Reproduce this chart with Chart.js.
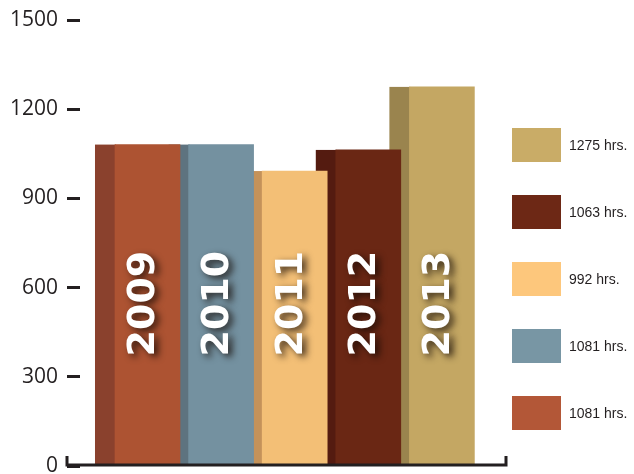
<!DOCTYPE html>
<html>
<head>
<meta charset="utf-8">
<script src="https://cdn.jsdelivr.net/npm/chart.js@4/dist/chart.umd.min.js"></script>
<style>
  html, body { margin: 0; padding: 0; background: #ffffff; }
  #wrap { width: 634px; height: 474px; position: relative; }
</style>
</head>
<body>
<div id="wrap"><canvas id="hoursChart"></canvas></div>
<script>
// Hours per year, one bar per year with a darker strip on its left side.

var years = ['2009', '2010', '2011', '2012', '2013'];
var hours = [1081, 1081, 992, 1063, 1275];
var legendText = ['1081 hrs.', '1081 hrs.', '992 hrs.', '1063 hrs.', '1275 hrs.'];
var yTicks = [0, 300, 600, 900, 1200, 1500];

var frontColors = ['#AD5332', '#7491A0', '#F3BF76', '#6A2714', '#C4A763'];
var sideColors = ['#8A412D', '#5E737F', '#C4925A', '#541B10', '#9A844E'];
var legendColors = ['#B35737', '#7896A4', '#FDC77C', '#6D2815', '#C9AC67'];

var inkColor = '#231f20';

// darker strip drawn behind all the front bars
var sideStrips = {
    id: 'sideStrips',
    beforeDatasetsDraw: function(chart) {
        var ctx = chart.ctx;
        var meta = chart.getDatasetMeta(0);
        ctx.save();
        meta.data.forEach(function(bar, i) {
            var p = bar.getProps(['x', 'y', 'width', 'base'], true);
            var left = p.x - p.width / 2;
            ctx.fillStyle = sideColors[i];
            // 1px extra tucks under the front bar so no seam shows
            ctx.fillRect(left - 20, p.y, 21, p.base - p.y);
        });
        ctx.restore();
    }
};

// rotated year labels with a soft shadow
var yearLabels = {
    id: 'yearLabels',
    afterDatasetsDraw: function(chart) {
        var ctx = chart.ctx;
        var meta = chart.getDatasetMeta(0);
        meta.data.forEach(function(bar, i) {
            var p = bar.getProps(['x', 'base'], true);
            ctx.save();
            ctx.translate(p.x - 3, p.base - 108);
            ctx.rotate(-Math.PI / 2);
            ctx.font = 'bold 38px "DejaVu Sans"';
            ctx.textAlign = 'left';
            ctx.textBaseline = 'middle';
            ctx.shadowColor = 'rgba(20, 10, 5, 0.8)';
            ctx.shadowBlur = 7;
            ctx.shadowOffsetX = 4;
            ctx.shadowOffsetY = 3;
            ctx.fillStyle = '#ffffff';
            ctx.fillText(years[i], 0, 0);
            ctx.restore();
        });
    }
};

// bottom axis line with the small end brackets, plus the legend
var axisAndLegend = {
    id: 'axisAndLegend',
    afterDraw: function(chart) {
        var ctx = chart.ctx;
        var area = chart.chartArea;
        var y0 = chart.scales.y.getPixelForValue(0) - 1;
        ctx.save();
        ctx.strokeStyle = inkColor;
        ctx.lineWidth = 3;
        ctx.beginPath();
        ctx.moveTo(area.left - 13, y0 - 9);
        ctx.lineTo(area.left - 13, y0);
        ctx.lineTo(area.right, y0);
        ctx.lineTo(area.right, y0 - 9);
        ctx.stroke();

        // legend, last year on top
        ctx.font = '14px "Liberation Sans", Arial, sans-serif';
        ctx.textBaseline = 'middle';
        ctx.textAlign = 'left';
        for (var k = 0; k < years.length; k++) {
            var i = years.length - 1 - k;
            var top = 128 + k * 67;
            ctx.fillStyle = legendColors[i];
            ctx.fillRect(area.right + 6, top, 49, 34);
            ctx.fillStyle = inkColor;
            ctx.fillText(legendText[i], area.right + 63, top + 18);
        }
        ctx.restore();
    }
};

document.addEventListener('DOMContentLoaded', function() {
    var ctx = document.getElementById('hoursChart');

    var points = years.map(function(y, i) {
        return { x: i + 1, y: hours[i] };
    });

    new Chart(ctx, {
        type: 'bar',
        data: {
            datasets: [{
                label: 'Hours',
                data: points,
                backgroundColor: frontColors,
                borderWidth: 0,
                barThickness: 65
            }]
        },
        options: {
            responsive: true,
            maintainAspectRatio: false,
            animation: false,
            layout: {
                padding: { top: 20, bottom: 8, left: 0, right: 128 }
            },
            plugins: {
                legend: { display: false },
                tooltip: { enabled: false }
            },
            scales: {
                x: {
                    type: 'linear',
                    min: 0.083,
                    max: 5.871,
                    offset: false,
                    display: false
                },
                y: {
                    min: 0,
                    max: 1500,
                    afterBuildTicks: function(scale) {
                        scale.ticks = yTicks.map(function(v) { return { value: v }; });
                    },
                    afterFit: function(scale) {
                        scale.width = 80;
                        scale.paddingTop = 0;
                        scale.paddingBottom = 0;
                    },
                    border: { display: false },
                    grid: {
                        drawOnChartArea: false,
                        drawTicks: true,
                        tickLength: 13,
                        lineWidth: 3,
                        color: inkColor
                    },
                    ticks: {
                        padding: 9,
                        color: inkColor,
                        font: { family: '"Open Sans"', size: 21 },
                        callback: function(value) { return String(value); }
                    }
                }
            }
        },
        plugins: [sideStrips, yearLabels, axisAndLegend]
    });
});
</script>
</body>
</html>
